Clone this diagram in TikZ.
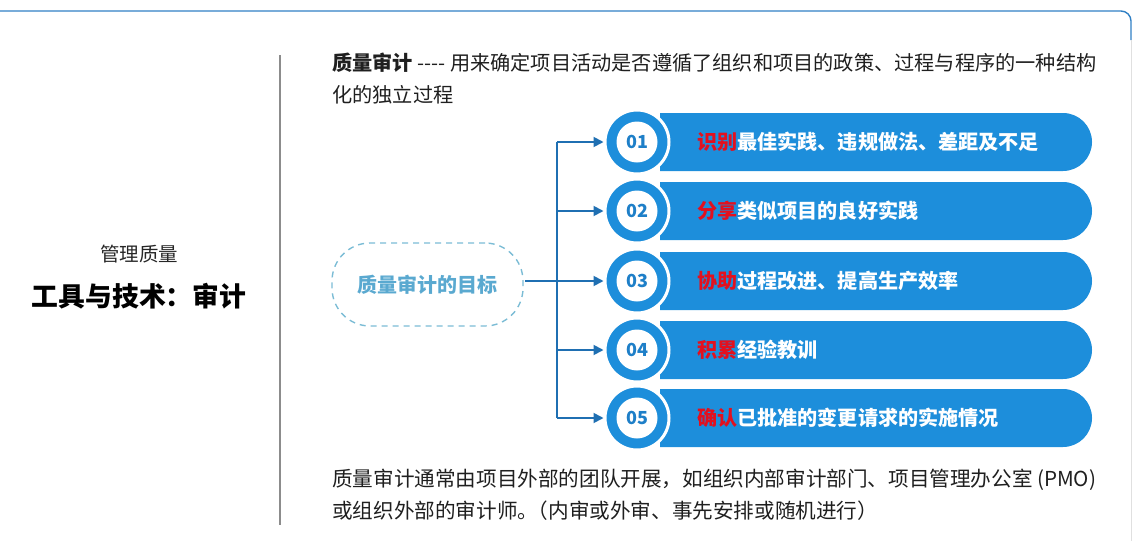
\documentclass[tikz,border=0pt]{standalone}
\usepackage{fontspec}
\setmainfont{Noto Sans CJK SC}
\usetikzlibrary{shapes.misc,arrows.meta}
\definecolor{barblue}{HTML}{1D8EDB}
\definecolor{numblue}{HTML}{1E7FC8}
\definecolor{hired}{HTML}{E3101E}
\definecolor{arrblue}{HTML}{1F6FB2}
\definecolor{goalline}{HTML}{7BBCD5}
\definecolor{goaltext}{HTML}{5AA9D0}
\definecolor{frameblue}{HTML}{2F7FC4}
\tikzset{
  fs/.style={font=\fontsize{#1}{#1}\selectfont},
  plain/.style={inner sep=0pt, anchor=west, fs=20.2, text=black!88},
  plainb/.style={inner sep=0pt, anchor=west, fs=20.6, text=black!88},
  barshape/.style={rounded rectangle, rounded rectangle west arc=none, fill=barblue,
    minimum width=432pt, minimum height=58pt, inner sep=0pt},
  outerc/.style={circle, fill=barblue, draw=white, line width=3pt, minimum size=64pt, inner sep=0pt},
  innerc/.style={circle, fill=white, minimum size=41pt, inner sep=0pt, text=numblue,
    font=\fontsize{18}{18}\selectfont\bfseries},
  bartext/.style={inner sep=0pt, anchor=west, text=white, font=\fontsize{20.1}{20.1}\selectfont\bfseries},
  arr/.style={draw=arrblue, line width=1.8pt, -{Triangle[length=10pt,width=10pt]}},
  trunk/.style={draw=arrblue, line width=1.8pt},
}
\begin{document}
\begin{tikzpicture}[x=1pt,y=-1pt]
\useasboundingbox (0,0) rectangle (1132,541);
% frame
\draw[frameblue, line width=1.4pt, rounded corners=10pt] (-5,11) -- (1131,11) -- (1131,40);
\draw[black!12, line width=0.8pt] (1131,40) -- (1131,541);
% divider
\draw[black!45, line width=1.4pt] (280,55) -- (280,525);
% left title
\node[inner sep=0pt, fs=19.5, text=black!85] (sub) at (139,254) {管理质量};
\node[inner sep=0pt, font=\fontsize{26.8}{26.8}\selectfont\bfseries] (main) at (139,296) {工具与技术：审计};
% top text
\node[plain] (t1) at (332,63) {\textbf{质量审计} -{}-{}-{}- 用来确定项目活动是否遵循了组织和项目的政策、过程与程序的一种结构};
\node[plain] (t2) at (332,95) {化的独立过程};
% bottom text
\node[plainb] (b1) at (332,480) {质量审计通常由项目外部的团队开展，如组织内部审计部门、项目管理办公室 (PMO)};
\node[plainb] (b2) at (332,511) {或组织外部的审计师。\hspace{-0.5em}（内审或外审、事先安排或随机进行）};
% goal
\node[draw=goalline, dash pattern=on 6pt off 5pt, line width=1.4pt, rounded corners=38pt,
  minimum width=191pt, minimum height=83pt, inner sep=0pt,
  text=goaltext, font=\fontsize{20}{20}\selectfont\bfseries] (goal) at (427.5,284.5) {质量审计的目标};
% bars
\foreach \i/\y in {1/142,2/211,3/281,4/350,5/418}{
  \node[barshape] (bar\i) at (876,\y) {};
  \node[outerc] (c\i) at (637,\y) {};
  \node[innerc] (n\i) at (637,\y) {0\i};
}
\node[bartext] (x1) at (697,142) {\textcolor{hired}{识别}最佳实践、违规做法、差距及不足};
\node[bartext] (x2) at (697,211) {\textcolor{hired}{分享}类似项目的良好实践};
\node[bartext] (x3) at (697,281) {\textcolor{hired}{协助}过程改进、提高生产效率};
\node[bartext] (x4) at (697,350) {\textcolor{hired}{积累}经验教训};
\node[bartext] (x5) at (697,418) {\textcolor{hired}{确认}已批准的变更请求的实施情况};
% connectors
\coordinate (k1) at (557,142);
\coordinate (k2) at (557,211);
\coordinate (k4) at (557,350);
\coordinate (k5) at (557,418);
\coordinate (g3) at (525,281);
\draw[trunk] (k1) -- (k5);
\draw[arr] (g3) -- (c3.west);
\draw[arr] (k1) -- (c1.west);
\draw[arr] (k2) -- (c2.west);
\draw[arr] (k4) -- (c4.west);
\draw[arr] (k5) -- (c5.west);
\end{tikzpicture}
\end{document}
